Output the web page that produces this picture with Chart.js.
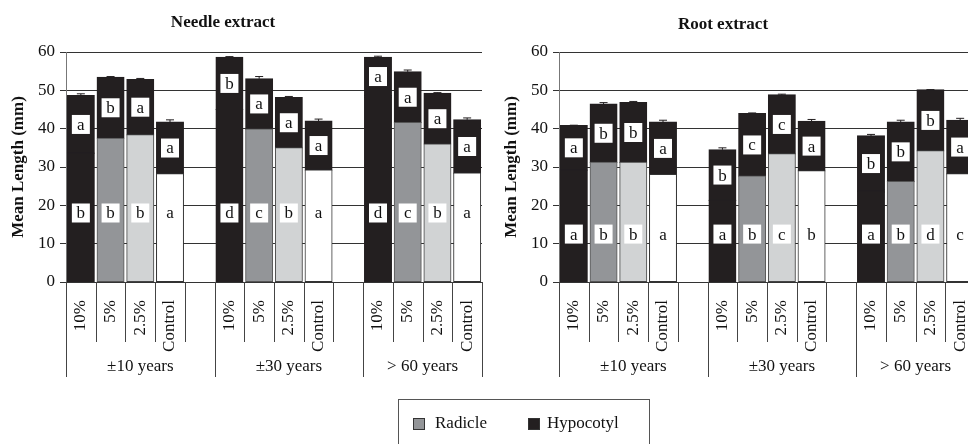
<!DOCTYPE html>
<html>
<head>
<meta charset="utf-8">
<script src="https://cdn.jsdelivr.net/npm/chart.js@4.4.1/dist/chart.umd.min.js"></script>
<style>
  body { margin: 0; background: #fff; width: 968px; height: 444px; overflow: hidden; position: relative; }
  canvas { position: absolute; top: 0; }
  #needle { left: 0; }
  #root { left: 493px; }
  .legend { position: absolute; left: 398px; top: 399px; width: 250px; height: 60px; border: 1px solid #555; font: 17px "Liberation Serif", serif; color: #111; }
  .legend span.sw { position: absolute; top: 18px; width: 10px; height: 10px; border: 1px solid #333; }
  .legend span.tx { position: absolute; top: 13px; }
</style>
</head>
<body>
<canvas id="needle" width="484" height="444"></canvas>
<canvas id="root" width="484" height="444"></canvas>
<div class="legend">
  <span class="sw" style="left:14px;background:#939598"></span><span class="tx" style="left:36px">Radicle</span>
  <span class="sw" style="left:129px;background:#231f20"></span><span class="tx" style="left:148px">Hypocotyl</span>
</div>
<script>
// categories (blank slots are the gaps between age groups)
const categories = ["10%", "5%", "2.5%", "Control", "", "10%", "5%", "2.5%", "Control", "", "10%", "5%", "2.5%", "Control"]
const groups = ["\u00b110 years", "\u00b130 years", "> 60 years"]
const yTicks = [0, 10, 20, 30, 40, 50, 60]

// Needle extract
const needleRadicle = [33.6, 37.5, 38.4, 28.2, null, 45.0, 39.9, 35.0, 29.2, null, 48.6, 41.6, 36.0, 28.4]
const needleHypocotyl = [15.0, 15.9, 14.4, 13.5, null, 13.6, 13.1, 13.1, 12.8, null, 10.0, 13.2, 13.2, 13.9]
const needleError = [0.5, 0.2, 0.3, 0.6, null, 0.2, 0.6, 0.3, 0.5, null, 0.3, 0.5, 0.2, 0.5]
const needleRadLetters = ["b", "b", "b", "a", "", "d", "c", "b", "a", "", "d", "c", "b", "a"]
const needleHypLetters = ["a", "b", "a", "a", "", "b", "a", "a", "a", "", "a", "a", "a", "a"]

// Root extract
const rootRadicle = [29.2, 31.2, 31.2, 28.0, null, 21.3, 27.6, 33.4, 29.0, null, 23.7, 26.2, 34.2, 28.2]
const rootHypocotyl = [11.6, 15.2, 15.6, 13.7, null, 13.2, 16.3, 15.4, 12.9, null, 14.4, 15.5, 15.9, 14.0]
const rootError = [0.1, 0.4, 0.3, 0.5, null, 0.5, 0.2, 0.2, 0.5, null, 0.4, 0.5, 0.1, 0.5]
const rootRadLetters = ["a", "b", "b", "a", "", "a", "b", "c", "b", "", "a", "b", "d", "c"]
const rootHypLetters = ["a", "b", "b", "a", "", "b", "c", "c", "a", "", "b", "b", "b", "a"]

const SERIF = '"Liberation Serif", "Times New Roman", serif'
const BLACK = "#231f20"
const concColors = { "10%": BLACK, "5%": "#939598", "2.5%": "#d1d3d4", "Control": "#ffffff", "": "#ffffff" }
const concBorders = { "10%": BLACK, "5%": "#555", "2.5%": "#444", "Control": "#333", "": "#333" }

// letters, error bars, title, axis separators
const panelPlugin = {
    id: "panel",
    afterDatasetsDraw(chart, args, opts) {
        const ctx = chart.ctx
        const y = chart.scales.y
        const hyp = chart.getDatasetMeta(1).data
        const rv = chart.data.datasets[0].data
        const hv = chart.data.datasets[1].data
        ctx.save()
        for (let i = 0; i < categories.length; i++) {
            if (rv[i] == null) continue
            const cx = hyp[i].x
            const top = rv[i] + hv[i]
            // error bar
            const ey = y.getPixelForValue(top + opts.errors[i])
            ctx.strokeStyle = BLACK
            ctx.lineWidth = 1
            ctx.beginPath()
            ctx.moveTo(cx, hyp[i].y)
            ctx.lineTo(cx, ey)
            ctx.moveTo(cx - 4, ey)
            ctx.lineTo(cx + 4, ey)
            ctx.stroke()
            // letters
            drawLetter(ctx, cx, y.getPixelForValue(opts.radLabelAt), opts.radLetters[i])
            drawLetter(ctx, cx, y.getPixelForValue(rv[i] + hv[i] / 2), opts.hypLetters[i])
        }
        ctx.restore()
    },
    afterDraw(chart, args, opts) {
        const ctx = chart.ctx
        const x = chart.scales.x
        const slot = x.width / categories.length
        const base = x.top
        ctx.save()
        ctx.strokeStyle = "#444"
        ctx.lineWidth = 1
        ctx.beginPath()
        for (let i = 0; i <= categories.length; i++) {
            const px = Math.round(x.left + i * slot) + 0.5
            const isGroup = i % 5 === 0 || i === categories.length
            ctx.moveTo(px, base)
            ctx.lineTo(px, base + (isGroup ? 95 : 60))
        }
        ctx.stroke()
        ctx.fillStyle = "#111"
        ctx.font = "17px " + SERIF
        ctx.textAlign = "center"
        ctx.textBaseline = "middle"
        groups.forEach((g, k) => {
            const start = k * 5
            const end = Math.min(start + 5, categories.length)
            ctx.fillText(g, x.left + (start + end) / 2 * slot, base + 85)
        })
        // panel title
        ctx.font = "bold 17px " + SERIF
        ctx.fillText(opts.title, opts.titleX, opts.titleY)
        ctx.restore()
    }
}

function drawLetter(ctx, cx, cy, letter) {
    if (!letter) return
    ctx.fillStyle = "#ffffff"
    ctx.fillRect(cx - 9, cy - 9.5, 18, 19)
    ctx.fillStyle = "#111"
    ctx.font = "17px " + SERIF
    ctx.textAlign = "center"
    ctx.textBaseline = "middle"
    ctx.fillText(letter, cx, cy + 1)
}

function makePanel(id, title, titleX, titleY, radicle, hypocotyl, errors, radLetters, hypLetters, radLabelAt) {
    const ctx = document.getElementById(id)
    return new Chart(ctx, {
        type: "bar",
        data: {
            labels: categories,
            datasets: [{
                label: "Radicle",
                data: radicle,
                backgroundColor: categories.map(c => concColors[c]),
                borderColor: categories.map(c => concBorders[c]),
                borderWidth: 1,
                borderSkipped: false,
                inflateAmount: 0.6
            }, {
                label: "Hypocotyl",
                data: hypocotyl,
                backgroundColor: BLACK,
                borderColor: BLACK,
                borderWidth: 1,
                borderSkipped: false,
                inflateAmount: 0.6
            }]
        },
        options: {
            responsive: false,
            animation: false,
            barPercentage: 0.9,
            categoryPercentage: 1,
            layout: { padding: { top: 52, right: 2, left: 0, bottom: 0 } },
            plugins: {
                legend: { display: false },
                tooltip: { enabled: false },
                panel: { title, titleX, titleY, errors, radLetters, hypLetters, radLabelAt }
            },
            scales: {
                x: {
                    stacked: true,
                    grid: { display: false },
                    border: { display: true, color: "#333" },
                    ticks: {
                        autoSkip: false, minRotation: 90, maxRotation: 90, padding: 10,
                        color: "#111", font: { family: SERIF, size: 17 }
                    },
                    afterFit(scale) {
                        scale.height = 162
                        scale.paddingLeft = 0
                        scale.paddingRight = 0
                    }
                },
                y: {
                    stacked: true,
                    min: yTicks[0],
                    max: yTicks[yTicks.length - 1],
                    afterBuildTicks(scale) { scale.ticks = yTicks.map(v => ({ value: v })) },
                    ticks: { padding: 5, color: "#111", font: { family: SERIF, size: 17 } },
                    grid: { color: "#333", tickLength: 6 },
                    border: { color: "#777" },
                    title: {
                        display: true, text: "Mean Length (mm)", color: "#111",
                        font: { family: SERIF, size: 17, weight: "bold" },
                        padding: { top: 8, bottom: 0 }
                    },
                    afterFit(scale) {
                        scale.width = 66
                        scale.paddingTop = 0
                        scale.paddingBottom = 0
                    }
                }
            }
        },
        plugins: [panelPlugin]
    })
}

makePanel("needle", "Needle extract", 223, 23, needleRadicle, needleHypocotyl, needleError, needleRadLetters, needleHypLetters, 18)
makePanel("root", "Root extract", 230, 25, rootRadicle, rootHypocotyl, rootError, rootRadLetters, rootHypLetters, 12.5)
</script>
</body>
</html>
